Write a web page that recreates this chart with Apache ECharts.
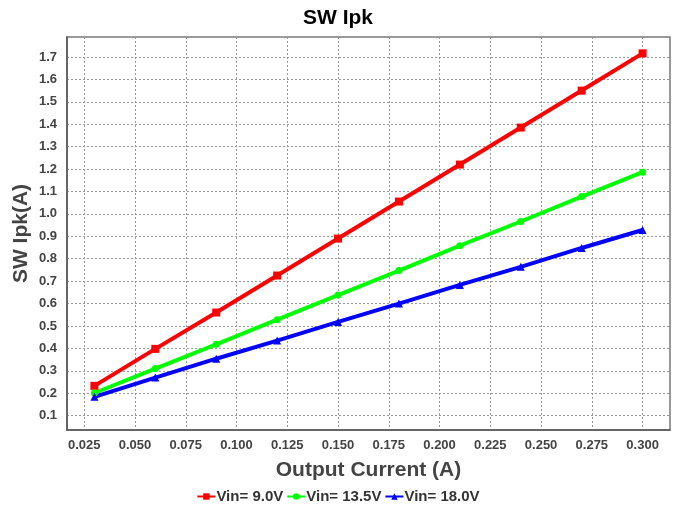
<!DOCTYPE html>
<html>
<head>
<meta charset="utf-8">
<script src="https://cdn.jsdelivr.net/npm/echarts@6/dist/echarts.min.js"></script>
<style>
  html, body { margin: 0; padding: 0; background: #ffffff; }
  #chart { width: 676px; height: 513px; }
</style>
</head>
<body>
<div id="chart"></div>
<script>
// Output current (A) for each measurement
const outputCurrent = [0.03, 0.06, 0.09, 0.12, 0.15, 0.18, 0.21, 0.24, 0.27, 0.30];

// Switch peak current (A) at each input voltage
const ipkVin9 = [0.233, 0.398, 0.560, 0.725, 0.890, 1.055, 1.220, 1.385, 1.550, 1.716];
const ipkVin135 = [0.201, 0.310, 0.418, 0.528, 0.638, 0.747, 0.858, 0.966, 1.077, 1.186];
const ipkVin18 = [0.184, 0.270, 0.354, 0.435, 0.518, 0.600, 0.683, 0.764, 0.848, 0.928];

// Axis tick values
const xTicks = [0.025, 0.050, 0.075, 0.100, 0.125, 0.150, 0.175, 0.200, 0.225, 0.250, 0.275, 0.300];
const yTicks = [0.1, 0.2, 0.3, 0.4, 0.5, 0.6, 0.7, 0.8, 0.9, 1.0, 1.1, 1.2, 1.3, 1.4, 1.5, 1.6, 1.7];

const seriesNames = ['Vin= 9.0V', 'Vin= 13.5V', 'Vin= 18.0V'];

const FONT = '"Liberation Sans", Arial, sans-serif';

function pairs(ys) {
  return outputCurrent.map((x, i) => [x, ys[i]]);
}

const chart = echarts.init(document.getElementById('chart'), null, { renderer: 'canvas' });

const gridLine = { show: true, lineStyle: { color: '#9a9a9a', type: [2, 2], width: 1 } };

chart.setOption({
  animation: false,
  backgroundColor: '#ffffff',
  title: {
    text: 'SW Ipk',
    left: 'center',
    top: 3,
    textStyle: { fontFamily: FONT, fontSize: 21, fontWeight: 'bold', color: '#000000' }
  },
  legend: {
    bottom: 4,
    left: 'center',
    itemGap: 3,
    itemWidth: 18,
    itemHeight: 8,
    textStyle: { fontFamily: FONT, fontSize: 15, fontWeight: 'bold', color: '#333333', padding: [0, 0, 0, -4] },
    data: seriesNames
  },
  grid: {
    left: 67, right: 6, top: 37, bottom: 83,
    show: true,
    borderColor: '#7a7a7a',
    borderWidth: 1.5
  },
  xAxis: {
    type: 'value',
    min: 0.0165,
    max: 0.3135,
    name: 'Output Current (A)',
    nameLocation: 'middle',
    nameGap: 30,
    nameMoveOverlap: false,
    nameTextStyle: { fontFamily: FONT, fontSize: 21, fontWeight: 'bold', color: '#444444' },
    axisLine: { show: true, lineStyle: { color: '#555555', width: 1.5 } },
    axisTick: { show: false, customValues: xTicks },
    axisLabel: {
      customValues: xTicks,
      margin: 9,
      fontFamily: FONT, fontSize: 13, fontWeight: 'bold', color: '#444444',
      formatter: v => v.toFixed(3)
    },
    splitLine: gridLine
  },
  yAxis: {
    type: 'value',
    min: 0.036,
    max: 1.789,
    name: 'SW Ipk(A)',
    nameLocation: 'middle',
    nameGap: 35,
    nameMoveOverlap: false,
    nameTextStyle: { fontFamily: FONT, fontSize: 21, fontWeight: 'bold', color: '#444444' },
    axisLine: { show: true, lineStyle: { color: '#555555', width: 1.5 } },
    axisTick: { show: false, customValues: yTicks },
    axisLabel: {
      customValues: yTicks,
      margin: 10,
      fontFamily: FONT, fontSize: 13, fontWeight: 'bold', color: '#444444',
      formatter: v => v.toFixed(1)
    },
    splitLine: gridLine
  },
  series: [
    {
      name: seriesNames[0], type: 'line', data: pairs(ipkVin9),
      symbol: 'rect', symbolSize: 8,
      lineStyle: { color: '#ff0000', width: 4 },
      itemStyle: { color: '#ff0000' }
    },
    {
      name: seriesNames[1], type: 'line', data: pairs(ipkVin135),
      symbol: 'circle', symbolSize: 7,
      lineStyle: { color: '#00ff00', width: 4 },
      itemStyle: { color: '#00ff00' }
    },
    {
      name: seriesNames[2], type: 'line', data: pairs(ipkVin18),
      symbol: 'triangle', symbolSize: 8,
      lineStyle: { color: '#0000ff', width: 4 },
      itemStyle: { color: '#0000ff' }
    }
  ]
});
</script>
</body>
</html>
